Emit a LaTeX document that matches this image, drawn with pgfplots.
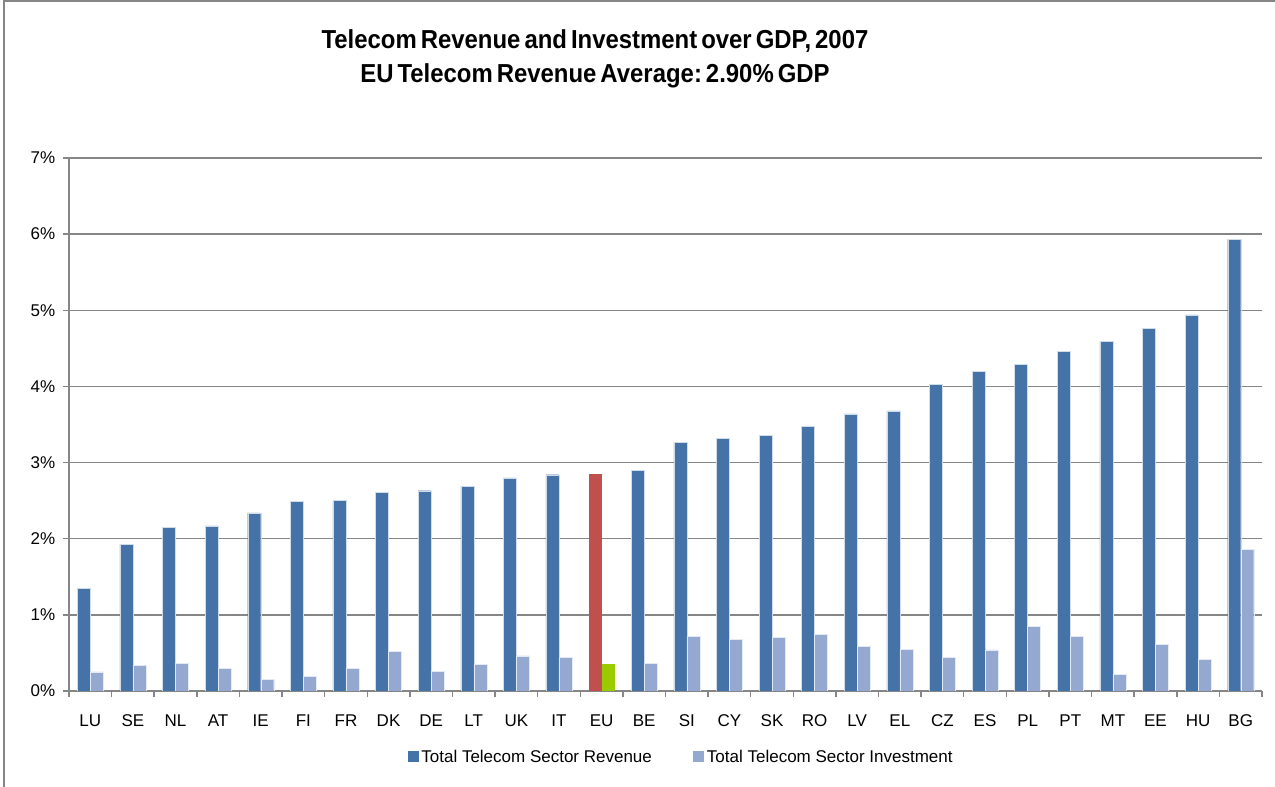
\documentclass[border=0pt]{standalone}
\usepackage{fontspec}
\setmainfont{Liberation Sans}
\newfontfamily\titlefont[WordSpace=0.6]{Liberation Sans}
\usepackage{graphicx}
\usepackage{pgfplots}
\pgfplotsset{compat=1.18}
\definecolor{rev}{RGB}{69,114,167}
\definecolor{inv}{RGB}{149,169,208}
\definecolor{eured}{RGB}{192,80,77}
\definecolor{eugreen}{RGB}{153,204,0}
\definecolor{gridgray}{RGB}{134,134,134}
\frenchspacing
\begin{document}
\begin{tikzpicture}
\useasboundingbox (-51.75pt,-72pt) rectangle (904.5pt,518.25pt);
\draw[gridgray, line width=0.8pt] (-48.75pt,-72pt) -- (-48.75pt,517.5pt) -- (904.5pt,517.5pt);
\begin{axis}[
  at={(0pt,0pt)}, anchor=south west,
  scale only axis, width=894.75pt, height=399.75pt,
  xmin=-0.5, xmax=27.5, ymin=0, ymax=7,
  axis x line*=bottom, axis y line*=left,
  axis line style={gridgray, line width=1.1pt},
  ymajorgrids, grid style={gridgray, line width=1.1pt},
  ytick={0,...,7}, yticklabels={0\%,1\%,2\%,3\%,4\%,5\%,6\%,7\%},
  minor ytick={0,...,7},
  xtick={0,...,27},
  xticklabels={LU,SE,NL,AT,IE,FI,FR,DK,DE,LT,UK,IT,EU,BE,SI,CY,SK,RO,LV,EL,CZ,ES,PL,PT,MT,EE,HU,BG},
  minor xtick={-0.5,0.5,...,27.5},
  tick align=outside,
  major tick length=0pt, minor tick length=4.5pt,
  tick style={gridgray, line width=1.1pt},
  tick label style={font=\fontsize{12.75}{15}\selectfont, text=black},
  yticklabel style={xshift=-6.75pt},
  xticklabel style={yshift=-14.25pt},
  legend style={at={(0.5134,-0.1238)}, anchor=center, draw=none, fill=none,
    legend columns=2, font=\fontsize{12.75}{15}\selectfont,
    /tikz/every even column/.append style={column sep=29pt}},
  legend image code/.code={\fill[#1, draw=none] (0pt,-4.125pt) rectangle (8.25pt,4.125pt);},
]
\addplot[ybar, bar width=9.75pt, bar shift=-4.875pt, fill=rev, draw=white!75!rev, line width=0.3pt]
coordinates {(0,1.35) (1,1.93) (2,2.15) (3,2.17) (4,2.34) (5,2.49) (6,2.50) (7,2.61) (8,2.63) (9,2.69) (10,2.80) (11,2.84) (13,2.90) (14,3.27) (15,3.32) (16,3.36) (17,3.48) (18,3.64) (19,3.68) (20,4.03) (21,4.20) (22,4.29) (23,4.46) (24,4.59) (25,4.76) (26,4.94) (27,5.93)};
\addlegendentry{Total Telecom Sector Revenue}
\addplot[ybar, bar width=9.75pt, bar shift=4.875pt, fill=inv, draw=white!75!inv, line width=0.3pt]
coordinates {(0,0.25) (1,0.34) (2,0.36) (3,0.30) (4,0.15) (5,0.19) (6,0.30) (7,0.52) (8,0.26) (9,0.35) (10,0.46) (11,0.44) (13,0.36) (14,0.72) (15,0.68) (16,0.70) (17,0.74) (18,0.59) (19,0.55) (20,0.44) (21,0.54) (22,0.85) (23,0.72) (24,0.22) (25,0.61) (26,0.42) (27,1.86)};
\addlegendentry{Total Telecom Sector Investment}
\addplot[ybar, bar width=9.75pt, bar shift=-4.875pt, fill=eured, draw=none, forget plot]
coordinates {(12,2.85)};
\addplot[ybar, bar width=9.75pt, bar shift=4.875pt, fill=eugreen, draw=none, forget plot]
coordinates {(12,0.36)};
\end{axis}
\node[anchor=base, font=\titlefont\bfseries\fontsize{19.5}{23}\selectfont] at (394.5pt,481.5pt) {\scalebox{0.92}[1]{Telecom Revenue and Investment over GDP, 2007}};
\node[anchor=base, font=\titlefont\bfseries\fontsize{19.5}{23}\selectfont] at (394.5pt,456pt) {\scalebox{0.92}[1]{EU Telecom Revenue Average: 2.90\% GDP}};
\end{tikzpicture}
\end{document}
